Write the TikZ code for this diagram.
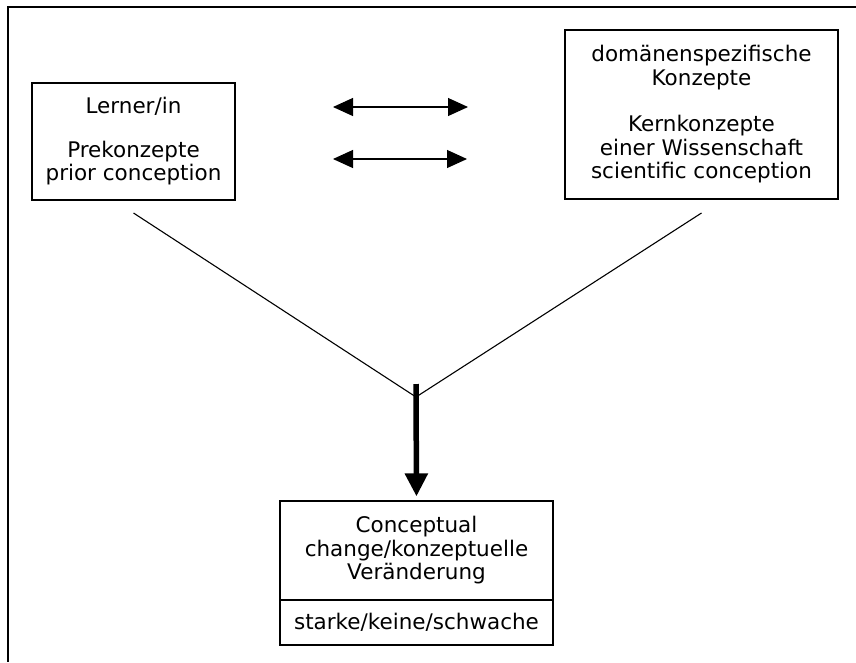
\documentclass[tikz,border=0pt]{standalone}
\usepackage{fontspec}
\setmainfont{DejaVu Sans}
\usetikzlibrary{arrows.meta}
\begin{document}
\begin{tikzpicture}[x=1pt,y=-1pt,
  txt/.style={font=\fontsize{21.5}{23.5}\selectfont},
  box/.style={draw, line width=1.2pt, align=center, inner sep=0pt, txt},
  thin/.style={line width=1.1pt},
  dbl/.style={line width=1.1pt, {Triangle[length=20pt,width=18pt]}-{Triangle[length=20pt,width=18pt]}},
  big/.style={line width=5.5pt, -{Triangle[length=23pt,width=22pt]}}
]
\useasboundingbox (0,0) rectangle (856,662);
% frame (top and left only)
\coordinate (fr) at (856,7);
\coordinate (fc) at (8,7);
\coordinate (fb) at (8,662);
\draw[line width=1.5pt] (fr) -- (fc) -- (fb);

\node[box, minimum width=203pt, minimum height=117pt] (learner) at (133.5,141.5)
  {Lerner/in\\[20pt]Prekonzepte\\prior conception};
\node[box, minimum width=273pt, minimum height=169pt] (domain) at (701.5,114.5)
  {domänenspezifische\\Konzepte\\[23pt]Kernkonzepte\\einer Wissenschaft\\scientific conception};
\node[box, minimum width=273pt, minimum height=99pt] (change) at (416.5,550.5)
  {Conceptual\\change/konzeptuelle\\Veränderung};
\node[box, minimum width=273pt, minimum height=45pt] (degree) at (416.5,622.5)
  {starke/keine/schwache};

\coordinate (a1l) at (333,107);
\coordinate (a1r) at (468,107);
\coordinate (a2l) at (333,159);
\coordinate (a2r) at (467,159);
\draw[dbl] (a1l) -- (a1r);
\draw[dbl] (a2l) -- (a2r);

\coordinate (ls) at (133.5,213);
\coordinate (rs) at (701.5,213);
\coordinate (v) at (416,397);
\coordinate (as) at (416,384);
\draw[thin] (ls) -- (v) -- (rs);
\draw[big, shorten >=4pt] (as) -- (change.north);
\end{tikzpicture}
\end{document}
